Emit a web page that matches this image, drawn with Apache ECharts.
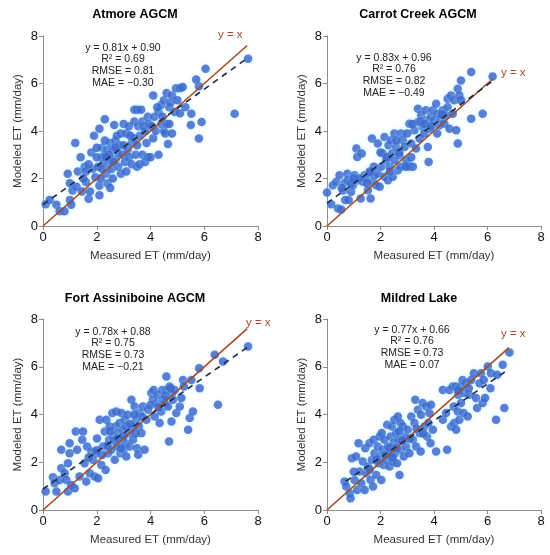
<!DOCTYPE html>
<html>
<head>
<meta charset="utf-8">
<script src="https://cdn.jsdelivr.net/npm/echarts@6/dist/echarts.min.js"></script>
<style>html,body{margin:0;padding:0;background:#fff}#c{width:550px;height:555px}</style>
</head>
<body>
<div id="c"></div>
<script>
// ---- data ----
const panelTitles = ['Atmore AGCM', 'Carrot Creek AGCM', 'Fort Assiniboine AGCM', 'Mildred Lake'];
const statsText = [
  ['y = 0.81x + 0.90', 'R² = 0.69', 'RMSE = 0.81', 'MAE = −0.30'],
  ['y = 0.83x + 0.96', 'R² = 0.76', 'RMSE = 0.82', 'MAE = −0.49'],
  ['y = 0.78x + 0.88', 'R² = 0.75', 'RMSE = 0.73', 'MAE = −0.21'],
  ['y = 0.77x + 0.66', 'R² = 0.76', 'RMSE = 0.73', 'MAE = 0.07']
];
const axisTicks = [0, 2, 4, 6, 8];
const xAxisTitle = 'Measured ET (mm/day)';
const yAxisTitle = 'Modeled ET (mm/day)';

const atmorePts = [
  [0.1,0.92],[0.25,1.1],[0.5,0.9],[0.62,0.62],[0.8,0.62],[0.92,2.2],[1.0,1.1],[1.05,0.9],[1.0,1.8],
  [1.1,1.5],[1.2,3.5],[1.25,1.65],[1.3,2.3],[1.4,2.9],[1.45,1.45],[1.55,2.5],[1.6,1.85],[1.7,1.15],[1.75,1.45],
  [1.8,3.1],[1.85,2.4],[1.9,3.8],[1.95,2.05],[1.6,2.3],[1.7,2.6],[1.5,2.0],
  [2.05,2.5],[2.1,4.1],[2.1,1.7],[2.1,1.3],[2.2,3.3],[2.2,2.9],[2.3,4.5],[2.25,2.7],[2.3,3.0],[2.35,2.2],
  [2.4,1.8],[2.4,3.2],[2.45,2.6],[2.5,3.5],[2.5,2.9],[2.55,2.4],[2.6,3.2],[2.6,2.0],[2.65,4.25],[2.7,3.6],
  [2.7,2.8],[2.75,3.8],[2.8,3.1],[2.8,2.5],[2.85,3.4],[2.9,2.2],[2.9,3.9],[2.95,3.0],[2.2,2.4],[2.3,3.6],
  [2.0,2.9],[2.15,2.0],[2.45,3.0],[2.6,2.7],[2.0,3.3],[2.35,2.9],[2.5,1.6],[2.7,3.3],
  [3.0,4.3],[3.0,3.4],[3.05,2.7],[3.1,3.9],[3.1,2.3],[3.15,3.2],[3.2,4.2],[3.2,2.9],[3.3,3.5],[3.3,2.6],
  [3.4,4.9],[3.4,4.4],[3.45,3.0],[3.5,4.9],[3.5,2.5],[3.55,4.2],[3.6,3.8],[3.6,2.6],[3.65,4.9],[3.7,4.4],
  [3.7,3.0],[3.75,4.2],[3.8,4.0],[3.8,2.7],[3.85,3.5],[3.9,4.6],[3.9,2.9],[3.95,4.3],[3.4,3.7],[3.5,3.4],[3.25,3.8],
  [4.0,2.9],[4.05,4.2],[4.1,3.7],[4.1,5.5],[4.15,4.6],[4.2,4.0],[4.3,3.0],[4.3,4.8],[4.4,5.1],[4.4,4.3],
  [4.5,5.3],[4.5,4.0],[4.55,3.9],[4.6,4.3],[4.6,5.6],[4.65,3.45],[4.7,5.0],[4.7,4.3],[4.75,5.2],[4.8,3.9],
  [4.8,5.5],[4.9,4.8],[4.95,5.8],[4.25,5.0],[4.45,4.6],
  [5.0,5.3],[5.1,4.75],[5.1,5.8],[5.2,5.85],[5.3,5.0],[5.52,4.73],[5.5,4.25],[5.8,5.88],[5.7,6.17],[5.8,3.68],
  [5.9,4.38],[6.05,6.62],[7.13,4.73],[7.63,7.04]
];
const carrotPts = [
  [0.0,1.41],[0.16,0.92],[0.22,1.72],[0.35,1.86],[0.41,0.74],[0.47,2.14],[0.53,0.7],[0.6,1.5],[0.66,1.82],
  [0.68,1.09],[0.76,2.2],[0.81,1.1],[0.78,1.93],[0.9,1.44],[0.97,1.72],[1.03,2.14],[1.1,3.26],[1.13,2.91],
  [1.16,1.93],[1.26,1.16],[1.3,3.05],[1.34,1.86],[1.4,2.14],[1.46,2.0],[1.53,1.51],[1.59,2.21],[1.63,1.16],
  [1.68,3.68],[1.72,1.86],[1.78,2.14],[1.84,1.72],[1.9,3.47],[1.9,2.21],[1.97,1.65],[2.03,2.49],[2.09,3.05],
  [2.15,3.75],[2.15,2.07],[2.21,2.77],[2.28,1.93],[2.3,3.4],[2.34,2.49],[2.4,3.61],[2.43,3.05],[2.46,2.07],
  [2.52,3.89],[2.52,2.77],[2.59,3.33],[2.65,2.35],[2.71,2.98],[2.77,3.89],[2.77,2.49],[2.84,3.61],[2.9,3.33],
  [2.96,2.77],[3.02,2.63],[3.08,4.31],[3.08,2.49],[3.15,3.47],[3.21,2.49],[3.27,4.03],[3.33,3.26],[3.4,4.94],
  [3.4,4.38],[3.46,3.68],[3.52,4.66],[3.58,4.17],[3.64,3.89],[3.7,4.87],[3.74,4.45],[3.77,3.33],[3.8,2.7],
  [3.83,4.1],[3.89,4.59],[3.96,4.87],[4.02,4.45],[4.08,5.15],[4.12,3.89],[4.14,4.73],[4.2,4.24],[4.27,4.52],
  [4.33,4.87],[4.39,4.31],[4.45,4.66],[4.51,5.01],[4.51,5.36],[4.58,4.1],[4.64,5.5],[4.7,4.73],[4.76,5.29],
  [4.83,4.03],[4.89,3.47],[4.89,5.78],[4.95,5.5],[5.01,6.13],[5.01,5.29],[5.39,6.48],[5.39,4.52],[5.82,4.73],[6.19,6.3],
  [0.55,1.6],[0.9,1.8],[1.2,2.0],[1.5,1.8],[1.75,2.5],[2.0,3.1],[2.25,2.9],[2.6,3.6],[2.7,3.1],[3.0,3.9],
  [3.2,4.3],[3.5,4.4],[3.65,4.3],[3.9,4.2],[4.3,4.7],[1.0,2.0],[1.6,2.3],[2.35,2.3],[2.95,2.5],[3.15,2.9]
];
const fortPts = [
  [0.1,0.77],[0.37,1.37],[0.43,1.12],[0.5,0.77],[0.62,1.26],[0.68,1.75],[0.68,2.52],[0.81,1.54],[0.87,1.26],
  [0.93,1.96],[0.93,0.77],[0.99,2.8],[0.99,2.38],[1.05,1.05],[1.18,0.91],[1.22,3.29],[1.27,2.52],[1.36,1.4],
  [1.46,2.94],[1.49,3.29],[1.55,1.96],[1.61,1.19],[1.64,2.66],[1.74,1.54],[1.8,2.45],[1.86,2.1],[1.92,1.4],
  [1.99,2.38],[2.01,3.0],[2.05,1.33],[2.11,3.78],[2.17,1.89],[2.23,2.66],[2.3,3.29],[2.33,1.68],[2.36,3.78],
  [2.42,2.38],[2.46,2.94],[2.48,3.5],[2.54,2.52],[2.58,4.06],[2.6,3.08],[2.67,2.1],[2.7,3.5],[2.73,4.13],
  [2.75,2.66],[2.79,3.22],[2.85,3.64],[2.88,2.38],[2.92,4.06],[2.95,2.94],[2.98,3.36],[3.0,2.52],[3.04,3.78],
  [3.08,2.8],[3.1,2.24],[3.16,3.99],[3.2,3.22],[3.23,2.66],[3.29,4.62],[3.33,3.5],[3.35,2.94],[3.41,4.34],
  [3.47,3.78],[3.5,2.59],[3.54,2.31],[3.57,3.5],[3.6,4.06],[3.66,3.22],[3.72,4.34],[3.78,2.52],[3.85,3.78],
  [3.91,4.2],[4.03,4.9],[4.09,4.62],[4.12,5.03],[4.16,3.92],[4.22,4.48],[4.28,4.83],[4.34,3.64],[4.4,4.13],
  [4.44,5.03],[4.47,4.62],[4.53,4.48],[4.59,5.59],[4.59,5.03],[4.65,4.34],[4.69,2.87],[4.71,5.17],[4.78,3.71],
  [4.81,4.9],[4.84,4.62],[4.9,5.03],[4.96,4.06],[5.09,4.34],[5.15,4.69],[5.21,5.45],[5.24,5.17],[5.4,3.36],
  [5.46,3.85],[5.52,5.45],[5.58,4.13],[5.81,5.94],[5.83,5.1],[6.39,6.5],[6.51,4.41],[6.7,6.22],[7.63,6.85],
  [2.5,3.3],[2.65,2.9],[2.8,3.0],[3.0,3.1],[3.1,3.5],[3.25,3.6],[3.45,3.2],[2.4,2.7],[2.2,2.3],[2.9,2.6],
  [3.7,3.9],[4.0,4.4],[4.3,4.3],[4.55,4.8],[4.75,5.1],[1.7,2.2],[2.0,2.5],[3.4,4.0]
];
const mildredPts = [
  [0.66,1.19],[0.72,0.98],[0.85,0.7],[0.88,0.49],[0.93,2.17],[1.03,1.26],[1.09,2.24],[1.13,0.84],[1.18,2.8],
  [1.22,1.61],[1.28,1.12],[1.34,2.03],[1.41,0.84],[1.43,2.59],[1.47,1.54],[1.53,1.82],[1.59,2.8],[1.63,1.26],
  [1.68,2.1],[1.72,0.98],[1.75,2.94],[1.78,2.38],[1.84,1.47],[1.9,2.66],[1.93,1.96],[1.97,3.08],[2.0,2.24],
  [2.03,1.26],[2.05,3.22],[2.09,2.52],[2.13,1.89],[2.15,2.94],[2.21,2.1],[2.25,3.57],[2.28,2.66],[2.34,1.82],
  [2.38,3.08],[2.4,2.38],[2.43,3.5],[2.46,2.03],[2.5,2.8],[2.52,3.78],[2.55,2.38],[2.59,3.22],[2.62,1.96],
  [2.65,3.92],[2.67,2.94],[2.71,1.47],[2.75,3.64],[2.77,2.52],[2.84,3.5],[2.87,2.24],[2.9,3.08],[2.96,2.66],
  [3.02,3.36],[3.08,2.38],[3.15,3.92],[3.21,2.94],[3.27,3.64],[3.3,4.62],[3.33,2.66],[3.4,4.2],[3.46,3.22],
  [3.5,2.45],[3.52,3.99],[3.58,4.48],[3.64,3.5],[3.71,4.34],[3.74,3.08],[3.79,3.64],[3.83,4.06],[3.87,2.8],
  [3.89,4.41],[3.96,3.36],[4.08,2.45],[4.33,3.78],[4.33,5.03],[4.45,4.06],[4.49,2.52],[4.58,5.03],[4.64,3.5],
  [4.7,5.17],[4.74,4.34],[4.76,3.64],[4.83,3.36],[4.83,5.17],[4.89,4.13],[4.91,4.83],[4.95,3.78],[4.99,5.17],
  [5.01,4.48],[5.07,5.45],[5.11,4.06],[5.14,4.9],[5.2,5.31],[5.26,3.92],[5.32,4.83],[5.39,5.45],[5.49,5.73],
  [5.57,4.69],[5.61,4.27],[5.7,5.31],[5.76,5.73],[5.82,4.48],[5.86,5.45],[5.91,4.69],[6.01,6.01],[6.11,5.1],
  [6.13,5.73],[6.32,3.78],[6.36,5.66],[6.57,6.08],[6.63,4.27],[6.82,6.6],
  [1.0,1.6],[1.6,1.7],[2.2,2.3],[2.35,2.6],[2.6,2.6],[2.7,3.3],[2.95,3.0],[3.1,3.0],[3.35,3.4],[1.85,2.1],
  [2.45,2.2],[2.8,2.9],[3.6,3.2],[4.9,5.0],[5.3,5.1]
];
const scatterData = [atmorePts, carrotPts, fortPts, mildredPts];
// regression (dashed) line endpoints and 1:1 line endpoints
const regLines = [
  [[0, 0.90], [7.6, 7.06]],
  [[0, 0.96], [6.2, 6.11]],
  [[0, 0.88], [7.6, 6.81]],
  [[0.7, 1.20], [6.8, 5.90]]
];
const oneToOne = [
  [[0, 0], [7.6, 7.6]],
  [[0, 0], [6.2, 6.2]],
  [[0, 0], [7.6, 7.6]],
  [[0, 0], [6.8, 6.8]]
];

// ---- layout ----
const FONT = 'Liberation Sans, Arial, sans-serif';
const grids = [
  {left: 43, top: 36, width: 215, height: 190},
  {left: 327, top: 36, width: 214, height: 190},
  {left: 43, top: 319, width: 215, height: 191},
  {left: 327, top: 319, width: 214, height: 191}
];
const titlePos = [[130, 3], [413, 3], [130, 287], [414, 287]];
const statPos = [[118, 37], [389, 47], [108, 321], [407, 319]];
const yxPos = [[230, 36], [513, 74], [258, 324], [513, 335]];

const chart = echarts.init(document.getElementById('c'), null, {renderer: 'canvas'});
const option = {
  animation: false,
  backgroundColor: '#fff',
  grid: grids,
  title: [],
  xAxis: [], yAxis: [], series: [],
  graphic: []
};
for (let i = 0; i < 4; i++) {
  option.title.push({
    text: panelTitles[i], left: titlePos[i][0], top: titlePos[i][1], textAlign: 'center',
    textStyle: {fontFamily: FONT, fontSize: 12.5, fontWeight: 'bold', color: '#000'}
  });
  option.title.push({
    text: statsText[i].join('\n'), left: statPos[i][0], top: statPos[i][1], textAlign: 'center',
    textStyle: {fontFamily: FONT, fontSize: 10.5, fontWeight: 'normal', color: '#222', lineHeight: 11.7}
  });
  const axisCommon = {
    gridIndex: i, type: 'value', min: axisTicks[0], max: axisTicks[axisTicks.length - 1], interval: 2,
    nameLocation: 'middle',
    nameTextStyle: {fontFamily: FONT, fontSize: 11.5, color: '#333'},
    axisLine: {show: true, onZero: false, lineStyle: {color: '#8c8c8c', width: 1}},
    axisTick: {show: true, length: 4, lineStyle: {color: '#8c8c8c'}},
    axisLabel: {fontFamily: FONT, fontSize: 13, color: '#111', margin: 5},
    splitLine: {show: false}
  };
  option.xAxis.push(Object.assign({}, axisCommon, {name: xAxisTitle, nameGap: 24}));
  option.yAxis.push(Object.assign({}, axisCommon, {name: yAxisTitle, nameGap: 19}));
  option.series.push({
    type: 'scatter', xAxisIndex: i, yAxisIndex: i, data: scatterData[i], symbolSize: 8.5,
    itemStyle: {color: '#3a5fcc', shadowColor: 'rgba(140,235,255,0.6)', shadowBlur: 4}, z: 2
  });
  option.series.push({
    type: 'line', xAxisIndex: i, yAxisIndex: i, data: oneToOne[i], symbol: 'none',
    lineStyle: {color: '#a34a26', width: 1.6}, z: 3
  });
  option.series.push({
    type: 'line', xAxisIndex: i, yAxisIndex: i, data: regLines[i], symbol: 'none',
    lineStyle: {color: '#1c2a4a', width: 1.6, type: [6, 5]}, z: 4
  });
  option.graphic.push({
    type: 'text', left: yxPos[i][0] - 12, top: yxPos[i][1] - 7,
    style: {text: 'y = x', fill: '#a34a26', font: '11.5px ' + FONT}
  });
}
chart.setOption(option);
</script>
</body>
</html>
